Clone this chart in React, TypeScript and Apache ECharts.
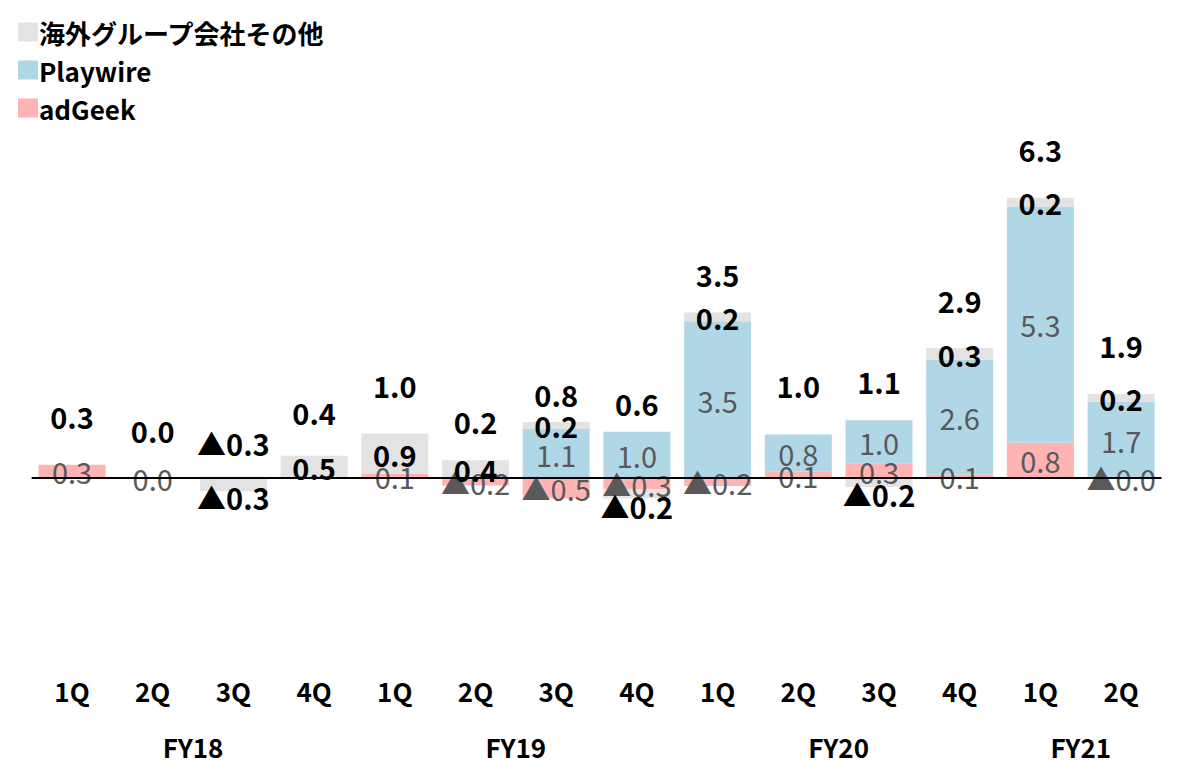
import React, { useEffect, useRef } from "react";
import * as echarts from "echarts";

// Quarterly operating profit by overseas subsidiary (unit: 100M yen)
const quarters = ["1Q", "2Q", "3Q", "4Q", "1Q", "2Q", "3Q", "4Q", "1Q", "2Q", "3Q", "4Q", "1Q", "2Q"];
const fiscalYears = ["FY18", "FY19", "FY20", "FY21"];
const quartersPerYear = [4, 4, 4, 2];

const adGeek = [0.3, 0.01, 0, 0, 0.1, -0.17, -0.46, -0.26, -0.18, 0.14, 0.33, 0.08, 0.8, -0.02];
const playwire = [0, 0, 0, 0, 0, 0, 1.1, 1.04, 3.52, 0.84, 0.97, 2.58, 5.3, 1.72];
const others = [0, 0, -0.3, 0.5, 0.9, 0.4, 0.16, -0.2, 0.2, 0, -0.2, 0.26, 0.2, 0.17];
const totals = [0.3, 0.0, -0.3, 0.4, 1.0, 0.2, 0.8, 0.6, 3.5, 1.0, 1.1, 2.9, 6.3, 1.9];

const SERIES_NAMES = ["海外グループ会社その他", "Playwire", "adGeek"];
const FONT = '"Noto Sans CJK JP", "Noto Sans", sans-serif';

// Negative values are written with a leading ▲
const fmt = (v: number) => (v < 0 ? "▲" + Math.abs(v).toFixed(1) : v.toFixed(1));
const fmtSegment = (p: any) => (p.value === 0 ? "" : fmt(p.value));

// Center of each fiscal-year group on a 0..N value scale
const fyCenters: number[] = [];
{
  let start = 0;
  quartersPerYear.forEach((n) => {
    fyCenters.push(start + n / 2);
    start += n;
  });
}

export default function App() {
  const ref = useRef<HTMLDivElement>(null);

  useEffect(() => {
    if (!ref.current) return;
    const chart = echarts.init(ref.current, null, { renderer: "svg" });

    const segLabel = (color: string, weight: any) => ({
      show: true,
      position: "inside",
      color,
      fontSize: 29,
      fontWeight: weight,
      fontFamily: FONT,
      formatter: fmtSegment,
    });

    chart.setOption({
      animation: false,
      textStyle: { fontFamily: FONT },
      legend: {
        orient: "vertical",
        left: 13,
        top: 14,
        icon: "rect",
        itemWidth: 20,
        itemHeight: 19,
        itemGap: 12,
        data: SERIES_NAMES,
        selectedMode: false,
        textStyle: {
          fontSize: 26,
          fontWeight: "bold",
          color: "#000",
          fontFamily: FONT,
          padding: [0, 0, 0, -4],
        },
      },
      grid: { left: 31.65, right: 16.55, top: 144.25, bottom: 127.25 },
      xAxis: [
        {
          type: "category",
          data: quarters,
          position: "bottom",
          axisLine: { show: false },
          axisTick: { show: false },
          axisLabel: {
            margin: 44,
            fontSize: 26,
            lineHeight: 26,
            fontWeight: "bold",
            color: "#000",
            fontFamily: FONT,
            interval: 0,
          },
        },
        {
          type: "value",
          min: 0,
          max: quarters.length,
          position: "bottom",
          axisLine: { show: false },
          axisTick: { show: false },
          splitLine: { show: false },
          axisLabel: {
            customValues: fyCenters,
            margin: 103,
            fontSize: 26,
            lineHeight: 20,
            fontWeight: "bold",
            color: "#000",
            fontFamily: FONT,
            formatter: (v: number) => {
              const i = fyCenters.indexOf(v);
              return i >= 0 ? fiscalYears[i] : "";
            },
          },
        },
      ],
      yAxis: { type: "value", min: -3.5, max: 7.5, show: false },
      series: [
        {
          name: "adGeek",
          type: "bar",
          stack: "total",
          barWidth: 67,
          data: adGeek,
          itemStyle: { color: "#ffb3b3" },
          label: segLabel("#595959", "normal"),
          markLine: {
            silent: true,
            symbol: ["none", "none"],
            label: { show: false },
            lineStyle: { color: "#000", width: 2, type: "solid" },
            data: [{ yAxis: 0 }],
            z: 20,
          },
        },
        {
          name: "Playwire",
          type: "bar",
          stack: "total",
          barWidth: 67,
          data: playwire,
          itemStyle: { color: "#b0d7e5" },
          label: segLabel("#595959", "normal"),
        },
        {
          name: "海外グループ会社その他",
          type: "bar",
          stack: "total",
          barWidth: 67,
          data: others.map((v) => (v < 0 ? { value: v, label: { offset: [0, 12] } } : v)),
          itemStyle: { color: "#e3e3e3" },
          label: segLabel("#000", "bold"),
        },
        {
          name: "合計",
          type: "scatter",
          data: totals,
          symbolSize: 0,
          itemStyle: { color: "#000", opacity: 1 },
          label: {
            show: true,
            position: "top",
            distance: 34,
            color: "#000",
            fontSize: 29,
            fontWeight: "bold",
            fontFamily: FONT,
            formatter: (p: any) => fmt(p.value),
          },
          z: 10,
        },
      ],
    });

    return () => chart.dispose();
  }, []);

  return (
    <div
      ref={ref}
      style={{ position: "absolute", left: 0, top: 0, width: 1178, height: 761, background: "#fff" }}
    />
  );
}
